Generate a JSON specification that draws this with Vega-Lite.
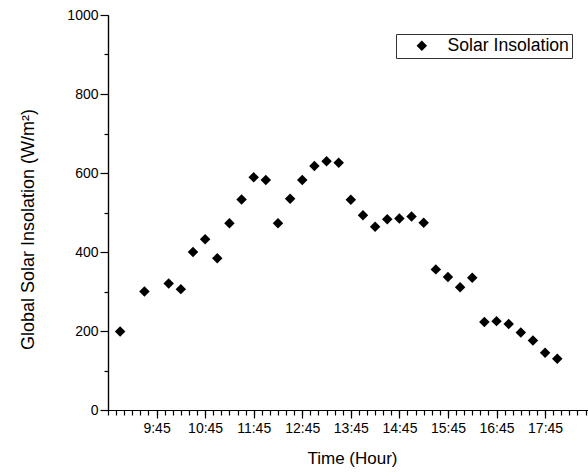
{
  "$schema": "https://vega.github.io/schema/vega-lite/v6.json",
  "autosize": {"type": "none"},
  "padding": {"left": 108, "top": 15, "right": 0, "bottom": 66},
  "width": 480,
  "height": 395,
  "background": "white",
  "config": {
    "view": {"stroke": null},
    "font": "Liberation Sans",
    "axis": {
      "domainColor": "black",
      "domainWidth": 1.2,
      "tickColor": "black",
      "tickWidth": 1.2,
      "labelColor": "black",
      "titleColor": "black",
      "labelFont": "Liberation Sans",
      "titleFont": "Liberation Sans",
      "titleFontWeight": "normal",
      "grid": false
    }
  },
  "data": {
    "values": [
      {"time": "2000-01-01T09:00", "value": 199},
      {"time": "2000-01-01T09:30", "value": 300},
      {"time": "2000-01-01T10:00", "value": 320},
      {"time": "2000-01-01T10:15", "value": 306},
      {"time": "2000-01-01T10:30", "value": 400},
      {"time": "2000-01-01T10:45", "value": 432},
      {"time": "2000-01-01T11:00", "value": 384},
      {"time": "2000-01-01T11:15", "value": 473},
      {"time": "2000-01-01T11:30", "value": 533},
      {"time": "2000-01-01T11:45", "value": 589},
      {"time": "2000-01-01T12:00", "value": 582},
      {"time": "2000-01-01T12:15", "value": 473},
      {"time": "2000-01-01T12:30", "value": 535},
      {"time": "2000-01-01T12:45", "value": 582},
      {"time": "2000-01-01T13:00", "value": 618},
      {"time": "2000-01-01T13:15", "value": 630},
      {"time": "2000-01-01T13:30", "value": 626},
      {"time": "2000-01-01T13:45", "value": 532},
      {"time": "2000-01-01T14:00", "value": 493},
      {"time": "2000-01-01T14:15", "value": 464},
      {"time": "2000-01-01T14:30", "value": 483},
      {"time": "2000-01-01T14:45", "value": 485},
      {"time": "2000-01-01T15:00", "value": 490},
      {"time": "2000-01-01T15:15", "value": 474},
      {"time": "2000-01-01T15:30", "value": 356},
      {"time": "2000-01-01T15:45", "value": 337},
      {"time": "2000-01-01T16:00", "value": 311},
      {"time": "2000-01-01T16:15", "value": 335},
      {"time": "2000-01-01T16:30", "value": 223},
      {"time": "2000-01-01T16:45", "value": 225},
      {"time": "2000-01-01T17:00", "value": 218},
      {"time": "2000-01-01T17:15", "value": 196},
      {"time": "2000-01-01T17:30", "value": 176},
      {"time": "2000-01-01T17:45", "value": 145},
      {"time": "2000-01-01T18:00", "value": 130}
    ]
  },
  "resolve": {"axis": {"x": "independent", "y": "independent"}},
  "layer": [
    {
      "mark": {"type": "point", "shape": "diamond", "filled": true, "size": 110, "opacity": 1},
      "encoding": {
        "x": {
          "field": "time",
          "type": "temporal",
          "scale": {
            "domain": [
              {"year": 2000, "month": 1, "date": 1, "hours": 8, "minutes": 45},
              {"year": 2000, "month": 1, "date": 1, "hours": 18, "minutes": 38}
            ],
            "nice": false
          },
          "axis": {
            "orient": "bottom",
            "title": null,
            "labels": false,
            "tickSize": 5,
            "values": [
              {"year": 2000, "month": 1, "date": 1, "hours": 8, "minutes": 45},
              {"year": 2000, "month": 1, "date": 1, "hours": 8, "minutes": 55},
              {"year": 2000, "month": 1, "date": 1, "hours": 9, "minutes": 5},
              {"year": 2000, "month": 1, "date": 1, "hours": 9, "minutes": 15},
              {"year": 2000, "month": 1, "date": 1, "hours": 9, "minutes": 25},
              {"year": 2000, "month": 1, "date": 1, "hours": 9, "minutes": 35},
              {"year": 2000, "month": 1, "date": 1, "hours": 9, "minutes": 45},
              {"year": 2000, "month": 1, "date": 1, "hours": 9, "minutes": 55},
              {"year": 2000, "month": 1, "date": 1, "hours": 10, "minutes": 5},
              {"year": 2000, "month": 1, "date": 1, "hours": 10, "minutes": 15},
              {"year": 2000, "month": 1, "date": 1, "hours": 10, "minutes": 25},
              {"year": 2000, "month": 1, "date": 1, "hours": 10, "minutes": 35},
              {"year": 2000, "month": 1, "date": 1, "hours": 10, "minutes": 45},
              {"year": 2000, "month": 1, "date": 1, "hours": 10, "minutes": 55},
              {"year": 2000, "month": 1, "date": 1, "hours": 11, "minutes": 5},
              {"year": 2000, "month": 1, "date": 1, "hours": 11, "minutes": 15},
              {"year": 2000, "month": 1, "date": 1, "hours": 11, "minutes": 25},
              {"year": 2000, "month": 1, "date": 1, "hours": 11, "minutes": 35},
              {"year": 2000, "month": 1, "date": 1, "hours": 11, "minutes": 45},
              {"year": 2000, "month": 1, "date": 1, "hours": 11, "minutes": 55},
              {"year": 2000, "month": 1, "date": 1, "hours": 12, "minutes": 5},
              {"year": 2000, "month": 1, "date": 1, "hours": 12, "minutes": 15},
              {"year": 2000, "month": 1, "date": 1, "hours": 12, "minutes": 25},
              {"year": 2000, "month": 1, "date": 1, "hours": 12, "minutes": 35},
              {"year": 2000, "month": 1, "date": 1, "hours": 12, "minutes": 45},
              {"year": 2000, "month": 1, "date": 1, "hours": 12, "minutes": 55},
              {"year": 2000, "month": 1, "date": 1, "hours": 13, "minutes": 5},
              {"year": 2000, "month": 1, "date": 1, "hours": 13, "minutes": 15},
              {"year": 2000, "month": 1, "date": 1, "hours": 13, "minutes": 25},
              {"year": 2000, "month": 1, "date": 1, "hours": 13, "minutes": 35},
              {"year": 2000, "month": 1, "date": 1, "hours": 13, "minutes": 45},
              {"year": 2000, "month": 1, "date": 1, "hours": 13, "minutes": 55},
              {"year": 2000, "month": 1, "date": 1, "hours": 14, "minutes": 5},
              {"year": 2000, "month": 1, "date": 1, "hours": 14, "minutes": 15},
              {"year": 2000, "month": 1, "date": 1, "hours": 14, "minutes": 25},
              {"year": 2000, "month": 1, "date": 1, "hours": 14, "minutes": 35},
              {"year": 2000, "month": 1, "date": 1, "hours": 14, "minutes": 45},
              {"year": 2000, "month": 1, "date": 1, "hours": 14, "minutes": 55},
              {"year": 2000, "month": 1, "date": 1, "hours": 15, "minutes": 5},
              {"year": 2000, "month": 1, "date": 1, "hours": 15, "minutes": 15},
              {"year": 2000, "month": 1, "date": 1, "hours": 15, "minutes": 25},
              {"year": 2000, "month": 1, "date": 1, "hours": 15, "minutes": 35},
              {"year": 2000, "month": 1, "date": 1, "hours": 15, "minutes": 45},
              {"year": 2000, "month": 1, "date": 1, "hours": 15, "minutes": 55},
              {"year": 2000, "month": 1, "date": 1, "hours": 16, "minutes": 5},
              {"year": 2000, "month": 1, "date": 1, "hours": 16, "minutes": 15},
              {"year": 2000, "month": 1, "date": 1, "hours": 16, "minutes": 25},
              {"year": 2000, "month": 1, "date": 1, "hours": 16, "minutes": 35},
              {"year": 2000, "month": 1, "date": 1, "hours": 16, "minutes": 45},
              {"year": 2000, "month": 1, "date": 1, "hours": 16, "minutes": 55},
              {"year": 2000, "month": 1, "date": 1, "hours": 17, "minutes": 5},
              {"year": 2000, "month": 1, "date": 1, "hours": 17, "minutes": 15},
              {"year": 2000, "month": 1, "date": 1, "hours": 17, "minutes": 25},
              {"year": 2000, "month": 1, "date": 1, "hours": 17, "minutes": 35},
              {"year": 2000, "month": 1, "date": 1, "hours": 17, "minutes": 45},
              {"year": 2000, "month": 1, "date": 1, "hours": 17, "minutes": 55},
              {"year": 2000, "month": 1, "date": 1, "hours": 18, "minutes": 5},
              {"year": 2000, "month": 1, "date": 1, "hours": 18, "minutes": 15},
              {"year": 2000, "month": 1, "date": 1, "hours": 18, "minutes": 25},
              {"year": 2000, "month": 1, "date": 1, "hours": 18, "minutes": 35}
            ]
          }
        },
        "y": {
          "field": "value",
          "type": "quantitative",
          "scale": {"domain": [0, 1000], "nice": false},
          "axis": {
            "orient": "left",
            "title": null,
            "labels": false,
            "tickSize": 4,
            "values": [100, 300, 500, 700, 900]
          }
        },
        "color": {
          "datum": "Solar Insolation",
          "type": "nominal",
          "scale": {"range": ["black"]},
          "legend": {
            "title": null,
            "orient": "none",
            "legendX": 288,
            "legendY": 19,
            "strokeColor": "#333333",
            "fillColor": "white",
            "padding": 3,
            "symbolType": "diamond",
            "symbolSize": 110,
            "symbolOffset": 14,
            "symbolFillColor": "black",
            "symbolStrokeWidth": 0,
            "labelFontSize": 17.6,
            "labelFont": "Liberation Sans",
            "labelColor": "black",
            "labelOffset": 17,
            "labelExpr": "datum.label + '\u00a0\u00a0'"
          }
        }
      }
    },
    {
      "mark": {"type": "point", "shape": "diamond", "filled": true, "size": 110, "opacity": 0},
      "encoding": {
        "x": {
          "field": "time",
          "type": "temporal",
          "axis": {
            "orient": "bottom",
            "title": "Time (Hour)",
            "titleFontSize": 17,
            "titleX": 244,
            "titlePadding": 15,
            "labelFontSize": 14,
            "format": "%-H:%M",
            "labelOverlap": false,
            "labelFlush": false,
            "labelPadding": 3,
            "tickSize": 8,
            "values": [
              {"year": 2000, "month": 1, "date": 1, "hours": 9, "minutes": 45},
              {"year": 2000, "month": 1, "date": 1, "hours": 10, "minutes": 45},
              {"year": 2000, "month": 1, "date": 1, "hours": 11, "minutes": 45},
              {"year": 2000, "month": 1, "date": 1, "hours": 12, "minutes": 45},
              {"year": 2000, "month": 1, "date": 1, "hours": 13, "minutes": 45},
              {"year": 2000, "month": 1, "date": 1, "hours": 14, "minutes": 45},
              {"year": 2000, "month": 1, "date": 1, "hours": 15, "minutes": 45},
              {"year": 2000, "month": 1, "date": 1, "hours": 16, "minutes": 45},
              {"year": 2000, "month": 1, "date": 1, "hours": 17, "minutes": 45}
            ]
          }
        },
        "y": {
          "field": "value",
          "type": "quantitative",
          "axis": {
            "orient": "left",
            "title": "Global Solar Insolation (W/m²)",
            "titleFontSize": 18,
            "titlePadding": 29,
            "titleY": 214,
            "labelFontSize": 14,
            "labelPadding": 2,
            "tickSize": 8,
            "format": "d",
            "values": [0, 200, 400, 600, 800, 1000]
          }
        }
      }
    }
  ]
}
